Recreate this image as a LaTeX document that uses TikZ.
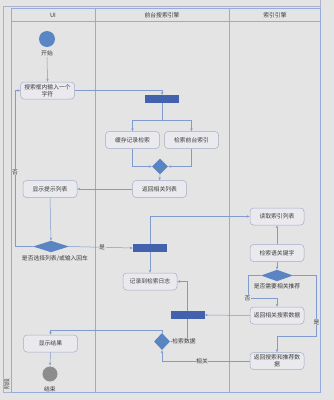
\documentclass[tikz,border=0pt]{standalone}
\usepackage{fontspec}
\newfontfamily\cjk{Noto Sans CJK SC}
\usetikzlibrary{shapes.geometric,arrows.meta}
\definecolor{bgc}{HTML}{E4E4E4}
\definecolor{framec}{HTML}{AEB0C8}
\definecolor{lanec}{HTML}{93ACDD}
\definecolor{flowc}{HTML}{7F9BD0}
\definecolor{boxc}{HTML}{A3ADC6}
\definecolor{boxf}{HTML}{EAEAEE}
\definecolor{barc}{HTML}{4262AE}
\definecolor{decc}{HTML}{5A84C2}
\definecolor{startc}{HTML}{5B86C6}
\definecolor{endc}{HTML}{8C8C8C}
\definecolor{txtc}{HTML}{3A3A3A}
\begin{document}
\begin{tikzpicture}[x=1pt,y=-1pt,
  txt/.style={font=\cjk\fontsize{5.8}{6.8}\selectfont, text=txtc},
  act/.style={txt, draw=boxc, fill=boxf, rounded corners=3.5pt, line width=0.5pt,
    minimum width=54pt, minimum height=17pt, align=center, inner sep=1pt},
  bar/.style={fill=barc, minimum width=34pt, minimum height=7.5pt, inner sep=0pt},
  dec/.style={diamond, fill=decc, inner sep=0pt},
  flow/.style={draw=flowc, line width=0.5pt, -{Stealth[length=3pt,width=2.4pt]}},
  lbl/.style={txt, fill=bgc, inner sep=0.6pt},
  hdr/.style={txt}]
\useasboundingbox[fill=bgc] (0,0) rectangle (334,400);

% pool frame and swimlanes
\draw[framec, line width=0.5pt] (3,6) -- (320,6);
\draw[framec, line width=0.5pt] (3,6) -- (3,392) -- (320,392);
\draw[framec, line width=0.5pt] (320,0) -- (320,392);
\draw[lanec, line width=0.5pt] (11,8) rectangle (320,392);
\draw[lanec, line width=0.5pt] (11,21.5) -- (320,21.5);
\draw[lanec, line width=0.5pt] (95,8) -- (95,392);
\draw[lanec, line width=0.5pt] (229,8) -- (229,392);
\node[hdr] (hui) at (53,15) {UI};
\node[hdr] (hfront) at (162,15) {前台搜索引擎};
\node[hdr] (hidx) at (275,15) {索引引擎};
\node[txt, rotate=90] (stage) at (7,384) {阶段};

% UI lane
\node[circle, fill=startc, minimum size=16pt, inner sep=0pt] (start) at (47,39) {};
\node[txt] (startl) at (47,53) {开始};
\node[act] (in1) at (47.5,90.5) {搜索框内输入一个\\字符};
\node[act] (hint) at (50,189) {显示提示列表};
\node[dec, minimum width=36pt, minimum height=11.5pt] (d2) at (51,246.5) {};
\node[txt] (d2l) at (55,259) {是否选择列表/或输入回车};
\node[act] (res) at (50.5,343.5) {显示结果};
\node[circle, draw=white!75!endc, line width=0.8pt, fill=endc, minimum size=16pt, inner sep=0pt] (endn) at (50,374) {};
\node[txt] (endl) at (50,389) {结束};

% front-end search engine lane
\node[bar] (bar1) at (162,99) {};
\node[act] (cache) at (132.5,140) {缓存记录检索};
\node[act] (front) at (191.5,140) {检索前台索引};
\node[dec, minimum width=16pt, minimum height=16pt] (m1) at (160,166.5) {};
\node[act] (ret) at (159.5,189) {返回相关列表};
\node[bar] (bar2) at (150,248) {};
\node[act] (log) at (150,281.5) {记录到检索日志};
\node[bar] (bar3) at (187.5,315) {};
\node[dec, minimum width=16pt, minimum height=17pt] (d4) at (162,341.5) {};

% index engine lane
\node[act] (idx) at (277,216.5) {读取索引列表};
\node[act] (kw) at (277,253) {检索语关键字};
\node[dec, minimum width=32pt, minimum height=11.5pt] (d3) at (277,275.5) {};
\node[txt] (d3l) at (277,286.5) {是否需要相关推荐};
\node[act] (rel) at (277,315.5) {返回相关搜索数据};
\node[act] (rec) at (277,361) {返回搜索和推荐数\\据};

% control flow
\draw[flow] (47,57) -- (in1.north);
\draw[flow] (in1.east) -| (bar1.north);
\draw[flow] (bar1.south) -- (162,120) -| (cache.north);
\draw[flow] (162,120) -| (front.north);
\draw[flow] (cache.south) |- (m1.west);
\draw[flow] (front.south) |- (m1.east);
\draw[flow] (m1.south) -- (ret.north);
\draw[flow] (ret.west) -- (hint.east);
\draw[flow] (hint.south) -- (d2.north);
\draw[flow] (d2.west) -- (15,246.5) -- (15,90.5) -- (in1.west);
\node[lbl] (no1) at (15,172) {否};
\draw[flow] (d2.east) -- (bar2.west);
\node[lbl] (yes1) at (102,247) {是};
\draw[flow] (bar2.north) |- (idx.west);
\draw[flow] (bar2.south) -- (log.north);
\draw[flow] (kw.north) -- (idx.south);
\draw[flow] (kw.south) -- (d3.north);
\draw[flow] (d3.west) -- (248,275.5) -- (248,298) -| (rel.north);
\node[lbl] (no2) at (247.5,298) {否};
\draw[flow] (d3.east) -- (316,275.5) -- (316,336) -| (rec.north);
\node[lbl] (yes2) at (316.5,322) {是};
\draw[flow] (rel.west) -- (bar3.east);
\draw[flow] (bar3.north) |- (log.east);
\draw[flow] (bar3.south) -- (187.5,341.5) -- (d4.east);
\node[lbl] (data) at (184,341.5) {检索数据};
\draw[flow] (rec.west) -| (d4.south);
\node[lbl] (relv) at (202,361) {相关};
\draw[flow] (d4.north) -- (162,330) -| (res.north);
\draw[flow] (res.south) -- (endn.north);
\end{tikzpicture}
\end{document}
